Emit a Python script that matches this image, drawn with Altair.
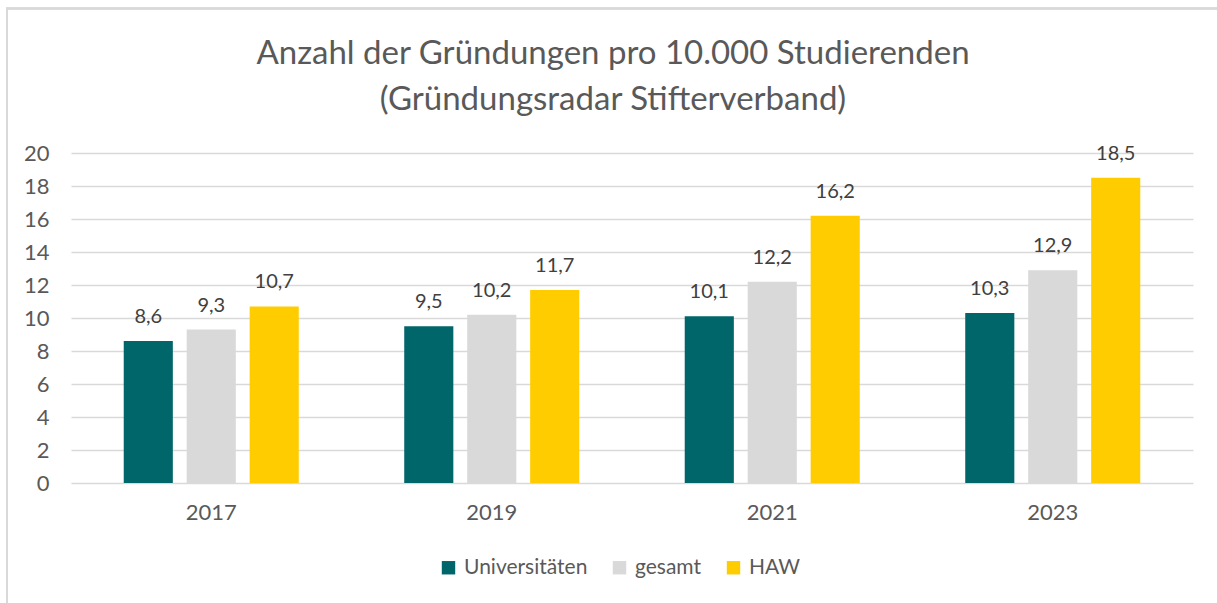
import altair as alt
import pandas as pd

years = ["2017", "2019", "2021", "2023"]
series = ["Universitäten", "gesamt", "HAW"]
uni = [8.6, 9.5, 10.1, 10.3]
gesamt = [9.3, 10.2, 12.2, 12.9]
haw = [10.7, 11.7, 16.2, 18.5]
colors = ["#00666A", "#D9D9D9", "#FFCC00"]
y_ticks = [0, 2, 4, 6, 8, 10, 12, 14, 16, 18, 20]
title_lines = ["Anzahl der Gründungen pro 10.000 Studierenden",
               "(Gründungsradar Stifterverband)"]

rows = []
for s, vals in zip(series, [uni, gesamt, haw]):
    for y, v in zip(years, vals):
        rows.append({"Jahr": y, "Serie": s, "Wert": v, "Label": f"{v:.1f}".replace(".", ",")})
df = pd.DataFrame(rows)

FONT = "Lato"
L, T = 71, 153
W, H = 1122, 330

x = alt.X("Jahr:N", sort=years, title=None,
          scale=alt.Scale(paddingInner=0.376, paddingOuter=0.188),
          axis=alt.Axis(labelAngle=0, ticks=False, domain=False, labelPadding=19,
                        labelFontSize=22, labelColor="#595959", labelFont=FONT))
xo = alt.XOffset("Serie:N", sort=series,
                 scale=alt.Scale(paddingInner=0.22, paddingOuter=0))
y = alt.Y("Wert:Q", title=None,
          scale=alt.Scale(domain=[0, 20], nice=False),
          axis=alt.Axis(values=y_ticks, tickCount=11, ticks=False, domain=False,
                        labelOverlap=False,
                        gridColor="#D9D9D9", gridWidth=1.5, labelPadding=22,
                        labelFontSize=22, labelColor="#595959", labelFont=FONT))

bars = alt.Chart(df).mark_bar().encode(
    x=x, xOffset=xo, y=y,
    color=alt.Color("Serie:N", sort=series,
                    scale=alt.Scale(domain=series, range=colors),
                    legend=alt.Legend(title=None, orient="none", direction="horizontal",
                                      legendX=367, legendY=404,
                                      symbolType="square", symbolSize=180,
                                      symbolStrokeWidth=0,
                                      labelFontSize=21, labelColor="#595959",
                                      labelFont=FONT, columnPadding=21,
                                      labelOffset=5)),
)

labels = alt.Chart(df).mark_text(baseline="alphabetic", dy=-18, fontSize=20,
                                 color="#404040", font=FONT).encode(
    x=x, xOffset=xo, y=y, text="Label:N",
)

border = alt.Chart(df).mark_rect(fill=None, stroke="#D9D9D9", strokeWidth=1.5).encode(
    x=alt.value(7 - L), x2=alt.value(1240 - L),
    y=alt.value(8.5 - T), y2=alt.value(640 - T),
)

title1 = alt.Chart(pd.DataFrame({"t": [title_lines[0]]})).mark_text(
    fontSize=33, font=FONT, color="#595959", align="center", baseline="alphabetic"
).encode(text="t:N", x=alt.value(613 - L), y=alt.value(64 - T))
title2 = alt.Chart(pd.DataFrame({"t": [title_lines[1]]})).mark_text(
    fontSize=33, font=FONT, color="#595959", align="center", baseline="alphabetic"
).encode(text="t:N", x=alt.value(613 - L), y=alt.value(110 - T))

chart = alt.layer(border, bars, labels, title1, title2).properties(
    width=W, height=H,
    autosize=alt.AutoSizeParams(type="none"),
    padding={"left": L, "top": T, "right": 1217 - L - W, "bottom": 603 - T - H},
).configure_view(stroke=None)

chart.save("out.html", embed_options={"renderer": "svg", "actions": False})
